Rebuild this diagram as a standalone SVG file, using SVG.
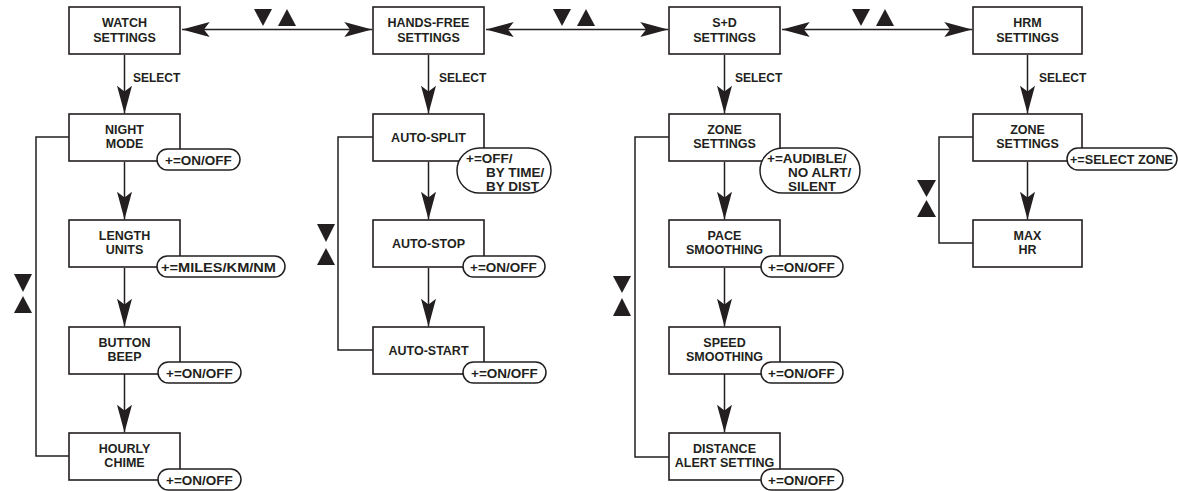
<svg xmlns="http://www.w3.org/2000/svg" width="1178" height="491" viewBox="0 0 1178 491">
<defs>
<style>
.box{fill:#fff;stroke:#231f20;stroke-width:1.6}
.pill{fill:#fff;stroke:#231f20;stroke-width:1.5}
.ln{fill:none;stroke:#231f20;stroke-width:1.5}
.t{font-family:"Liberation Sans",Arial,sans-serif;font-weight:bold;font-size:12.5px;fill:#231f20;text-anchor:middle}
.p{font-family:"Liberation Sans",Arial,sans-serif;font-weight:bold;font-size:13.5px;fill:#231f20}
.s{font-family:"Liberation Sans",Arial,sans-serif;font-weight:bold;font-size:12px;fill:#231f20}
.tri{fill:#231f20}
</style>
<marker id="ah" markerUnits="userSpaceOnUse" markerWidth="30" markerHeight="20" viewBox="-25 -8 26 16" refX="0" refY="0" orient="auto-start-reverse">
<path d="M0,0 L-24,-6.5 L-19,0 L-24,6.5 Z" fill="#231f20"/>
</marker>
</defs>
<rect width="1178" height="491" fill="#fff"/>

<g id="connectors">
<line class="ln" x1="182" y1="29.5" x2="372" y2="29.5" marker-start="url(#ah)" marker-end="url(#ah)"/>
<line class="ln" x1="486" y1="29.5" x2="668" y2="29.5" marker-start="url(#ah)" marker-end="url(#ah)"/>
<line class="ln" x1="782" y1="29.5" x2="972" y2="29.5" marker-start="url(#ah)" marker-end="url(#ah)"/>
<polygon class="tri" points="254,9 272,9 263,26"/>
<polygon class="tri" points="278,26 296,26 287,9"/>
<polygon class="tri" points="553,9 571,9 562,26"/>
<polygon class="tri" points="577,26 595,26 586,9"/>
<polygon class="tri" points="852,9 870,9 861,26"/>
<polygon class="tri" points="876,26 894,26 885,9"/>

<line class="ln" x1="124.5" y1="55" x2="124.5" y2="113.5" marker-end="url(#ah)"/>
<line class="ln" x1="428.5" y1="55" x2="428.5" y2="113.5" marker-end="url(#ah)"/>
<line class="ln" x1="724.5" y1="55" x2="724.5" y2="113.5" marker-end="url(#ah)"/>
<line class="ln" x1="1027.5" y1="55" x2="1027.5" y2="113.5" marker-end="url(#ah)"/>
<text class="s" x="133" y="81.5">SELECT</text>
<text class="s" x="439" y="81.5">SELECT</text>
<text class="s" x="735" y="81.5">SELECT</text>
<text class="s" x="1039" y="81.5">SELECT</text>

<line class="ln" x1="124.5" y1="162" x2="124.5" y2="219.5" marker-end="url(#ah)"/>
<line class="ln" x1="124.5" y1="268" x2="124.5" y2="326.5" marker-end="url(#ah)"/>
<line class="ln" x1="124.5" y1="374" x2="124.5" y2="432.5" marker-end="url(#ah)"/>
<line class="ln" x1="428.5" y1="162" x2="428.5" y2="219.5" marker-end="url(#ah)"/>
<line class="ln" x1="428.5" y1="268" x2="428.5" y2="326.5" marker-end="url(#ah)"/>
<line class="ln" x1="724.5" y1="162" x2="724.5" y2="219.5" marker-end="url(#ah)"/>
<line class="ln" x1="724.5" y1="268" x2="724.5" y2="326.5" marker-end="url(#ah)"/>
<line class="ln" x1="724.5" y1="374" x2="724.5" y2="432.5" marker-end="url(#ah)"/>
<line class="ln" x1="1027.5" y1="162" x2="1027.5" y2="219.5" marker-end="url(#ah)"/>

<path class="ln" d="M69,137 H36 V456 H69"/>
<path class="ln" d="M373,137 H338 V350 H373"/>
<path class="ln" d="M669,137 H635 V457 H669"/>
<path class="ln" d="M973,137 H939 V243 H973"/>
<polygon class="tri" points="14,274 32,274 23,292"/>
<polygon class="tri" points="14,313 32,313 23,296"/>
<polygon class="tri" points="317,224 335,224 326,242"/>
<polygon class="tri" points="317,265 335,265 326,248"/>
<polygon class="tri" points="613,276 631,276 622,293"/>
<polygon class="tri" points="613,316 631,316 622,298"/>
<polygon class="tri" points="917,180 936,180 926.5,197"/>
<polygon class="tri" points="917,217 936,217 926.5,200"/>
</g>

<g id="watch-settings"><rect class="box" x="69" y="7" width="111" height="47"/><text class="t" x="124.5" y="27">WATCH</text><text class="t" x="124.5" y="41.5">SETTINGS</text></g>
<g id="hands-free-settings"><rect class="box" x="373" y="7" width="111" height="47"/><text class="t" x="428.5" y="27">HANDS-FREE</text><text class="t" x="428.5" y="41.5">SETTINGS</text></g>
<g id="sd-settings"><rect class="box" x="669" y="7" width="111" height="47"/><text class="t" x="724.5" y="27">S+D</text><text class="t" x="724.5" y="41.5">SETTINGS</text></g>
<g id="hrm-settings"><rect class="box" x="973" y="7" width="109" height="47"/><text class="t" x="1027.5" y="27">HRM</text><text class="t" x="1027.5" y="41.5">SETTINGS</text></g>

<g id="night-mode"><rect class="box" x="69" y="114" width="111" height="47"/><text class="t" x="124.5" y="133.5">NIGHT</text><text class="t" x="124.5" y="148">MODE</text>
<rect class="pill" x="157" y="149" width="83" height="21" rx="10.5"/><text class="p" x="165" y="164.5">+=ON/OFF</text></g>
<g id="length-units"><rect class="box" x="69" y="220" width="111" height="47"/><text class="t" x="124.5" y="239.5">LENGTH</text><text class="t" x="124.5" y="254">UNITS</text>
<rect class="pill" x="157" y="256" width="128" height="21" rx="10.5"/><text class="p" x="161" y="271.5" textLength="115" lengthAdjust="spacingAndGlyphs">+=MILES/KM/NM</text></g>
<g id="button-beep"><rect class="box" x="69" y="327" width="111" height="47"/><text class="t" x="124.5" y="346.5">BUTTON</text><text class="t" x="124.5" y="361">BEEP</text>
<rect class="pill" x="158" y="362" width="83" height="21" rx="10.5"/><text class="p" x="166" y="377.5">+=ON/OFF</text></g>
<g id="hourly-chime"><rect class="box" x="69" y="433" width="111" height="47"/><text class="t" x="124.5" y="452.5">HOURLY</text><text class="t" x="124.5" y="467">CHIME</text>
<rect class="pill" x="158" y="469" width="83" height="21" rx="10.5"/><text class="p" x="166" y="484.5">+=ON/OFF</text></g>

<g id="auto-split"><rect class="box" x="373" y="114" width="111" height="47"/><text class="t" x="428.5" y="142">AUTO-SPLIT</text>
<rect class="pill" x="457" y="148" width="94" height="45" rx="22.5"/><text class="p" x="466" y="162.5">+=OFF/</text><text class="p" x="486" y="177">BY TIME/</text><text class="p" x="486" y="191">BY DIST</text></g>
<g id="auto-stop"><rect class="box" x="373" y="220" width="111" height="47"/><text class="t" x="428.5" y="248">AUTO-STOP</text>
<rect class="pill" x="463" y="256" width="82" height="21" rx="10.5"/><text class="p" x="470" y="271.5">+=ON/OFF</text></g>
<g id="auto-start"><rect class="box" x="373" y="327" width="111" height="47"/><text class="t" x="428.5" y="355">AUTO-START</text>
<rect class="pill" x="463" y="362" width="83" height="21" rx="10.5"/><text class="p" x="471" y="377.5">+=ON/OFF</text></g>

<g id="sd-zone-settings"><rect class="box" x="669" y="114" width="111" height="47"/><text class="t" x="724.5" y="133.5">ZONE</text><text class="t" x="724.5" y="148">SETTINGS</text>
<rect class="pill" x="760" y="148" width="100" height="45" rx="22.5"/><text class="p" x="767" y="162.5">+=AUDIBLE/</text><text class="p" x="788" y="177">NO ALRT/</text><text class="p" x="788" y="191">SILENT</text></g>
<g id="pace-smoothing"><rect class="box" x="669" y="220" width="111" height="47"/><text class="t" x="724.5" y="239.5">PACE</text><text class="t" x="724.5" y="254">SMOOTHING</text>
<rect class="pill" x="761" y="256" width="82" height="21" rx="10.5"/><text class="p" x="768" y="271.5">+=ON/OFF</text></g>
<g id="speed-smoothing"><rect class="box" x="669" y="327" width="111" height="47"/><text class="t" x="724.5" y="346.5">SPEED</text><text class="t" x="724.5" y="361">SMOOTHING</text>
<rect class="pill" x="761" y="362" width="82" height="21" rx="10.5"/><text class="p" x="768" y="377.5">+=ON/OFF</text></g>
<g id="distance-alert-setting"><rect class="box" x="669" y="433" width="111" height="47"/><text class="t" x="724.5" y="452.5">DISTANCE</text><text class="t" x="724.5" y="467">ALERT SETTING</text>
<rect class="pill" x="761" y="469" width="82" height="21" rx="10.5"/><text class="p" x="768" y="484.5">+=ON/OFF</text></g>

<g id="hrm-zone-settings"><rect class="box" x="973" y="114" width="109" height="47"/><text class="t" x="1027.5" y="133.5">ZONE</text><text class="t" x="1027.5" y="148">SETTINGS</text>
<rect class="pill" x="1067" y="148" width="110" height="22" rx="11"/><text class="p" x="1070" y="164" textLength="103" lengthAdjust="spacingAndGlyphs">+=SELECT ZONE</text></g>
<g id="max-hr"><rect class="box" x="973" y="220" width="109" height="47"/><text class="t" x="1027.5" y="239.5">MAX</text><text class="t" x="1027.5" y="254">HR</text></g>
</svg>
